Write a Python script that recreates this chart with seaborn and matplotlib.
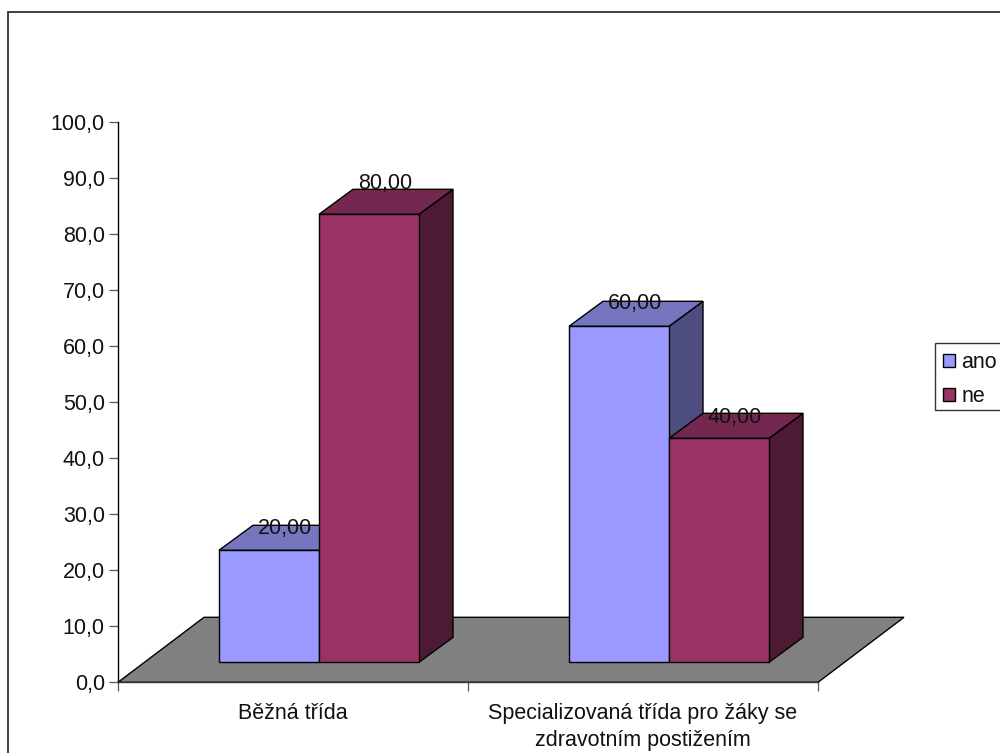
import matplotlib
matplotlib.use("Agg")
import matplotlib.pyplot as plt
from matplotlib.patches import Polygon, Rectangle
import pandas as pd
import seaborn as sns

categories = ["Běžná třída", "Specializovaná třída pro žáky se\nzdravotním postižením"]
series_names = ["ano", "ne"]
ano_values = [20.0, 60.0]
ne_values = [80.0, 40.0]
y_ticks = [0, 10, 20, 30, 40, 50, 60, 70, 80, 90, 100]

front_colors = ["#9999FF", "#993366"]
top_colors = ["#7676BF", "#74284F"]
side_colors = ["#4D4D80", "#4D1A33"]
floor_color = "#808080"

# Height of each value label's baseline above its bar, in pixels (series, category)
label_lift = [[16, 17], [25, 15]]

WIDTH, HEIGHT = 1000, 753
FONT_SIZE = 15.5
PX = 0.72  # points per pixel at 100 dpi

sns.set_theme(style="white")
plt.rcParams["font.family"] = ["Liberation Sans", "DejaVu Sans"]
plt.rcParams["text.color"] = "#111111"

fig = plt.figure(figsize=(WIDTH / 100, HEIGHT / 100), dpi=100, facecolor="white")
ax = fig.add_axes([118 / WIDTH, 1 - 682.3 / HEIGHT, 700 / WIDTH, 560 / HEIGHT])

table = pd.DataFrame({
    "category": categories * 2,
    "series": [series_names[0]] * 2 + [series_names[1]] * 2,
    "value": ano_values + ne_values,
})

sns.barplot(
    data=table, x="category", y="value", hue="series", order=categories,
    hue_order=series_names, palette=front_colors, saturation=1, width=200 / 350,
    gap=0, edgecolor="black", linewidth=1.0, legend=False, ax=ax, errorbar=None,
)

ax.set_xlim(-0.5, 1.5)
ax.set_ylim(0, 100)
ax.set_xlabel("")
ax.set_ylabel("")

# Oblique projection: screen offsets expressed in data units of this axes
x_unit = 350.0
y_unit = 5.6
floor_dx, floor_dy = 86 / x_unit, 65 / y_unit
bar_dx, bar_dy = 34 / x_unit, 25 / y_unit
bar_shift_x, bar_base = 26 / x_unit, 20 / y_unit

x0, x1 = ax.get_xlim()
ax.add_patch(Polygon(
    [(x0, 0), (x1, 0), (x1 + floor_dx, floor_dy), (x0 + floor_dx, floor_dy)],
    closed=True, facecolor=floor_color, edgecolor="black", linewidth=1.0,
    zorder=1, clip_on=False,
))

for s, container in enumerate(ax.containers):
    for c, patch in enumerate(container.patches):
        value = patch.get_height()
        left = patch.get_x() + bar_shift_x
        right = left + patch.get_width()
        patch.set_x(left)
        patch.set_y(bar_base)
        patch.set_zorder(3.2 + s)
        top = bar_base + value
        ax.add_patch(Polygon(
            [(right, bar_base), (right + bar_dx, bar_base + bar_dy),
             (right + bar_dx, top + bar_dy), (right, top)],
            closed=True, facecolor=side_colors[s], edgecolor="black",
            linewidth=1.0, zorder=3.0 + s, clip_on=False,
        ))
        ax.add_patch(Polygon(
            [(left, top), (right, top), (right + bar_dx, top + bar_dy),
             (left + bar_dx, top + bar_dy)],
            closed=True, facecolor=top_colors[s], edgecolor="black",
            linewidth=1.0, zorder=3.1 + s, clip_on=False,
        ))
        ax.annotate(
            f"{value:.2f}".replace(".", ","),
            xy=((left + right) / 2, top), xytext=(16 * PX, label_lift[s][c] * PX),
            textcoords="offset points", ha="center", va="baseline",
            fontsize=FONT_SIZE, zorder=8,
        )

# Axis lines and ticks: category boundaries carry the ticks, centres the labels
for name in ("top", "right"):
    ax.spines[name].set_visible(False)
ax.spines["left"].set_color("black")
ax.spines["left"].set_linewidth(1.0)
ax.spines["left"].set_zorder(2)
ax.spines["bottom"].set_color("#333333")
ax.spines["bottom"].set_linewidth(1.0)
ax.spines["bottom"].set_zorder(2)

ax.set_yticks(y_ticks)
ax.set_yticklabels([f"{t:.1f}".replace(".", ",") for t in y_ticks])
ax.tick_params(axis="y", which="major", left=True, length=6.5, width=0.9, color="#555555",
               pad=3, labelsize=FONT_SIZE, labelcolor="#111111")
ax.set_xticks([-0.5, 0.5, 1.5])
ax.set_xticklabels([])
ax.set_xticks([0, 1], labels=categories, minor=True)
ax.tick_params(axis="x", which="major", bottom=True, length=6.5, width=0.9, color="#555555")
ax.tick_params(axis="x", which="minor", bottom=False, length=0, pad=14.8,
               labelsize=FONT_SIZE, labelcolor="#111111")
for label in ax.get_xticklabels(minor=True):
    label.set_linespacing(1.4)

# Legend box is drawn on its own so it can sit tighter than the legend's padding allows
ax.add_patch(Rectangle(
    (935 / WIDTH, 1 - 410 / HEIGHT), 0.1, 67 / HEIGHT, transform=fig.transFigure,
    facecolor="white", edgecolor="#333333", linewidth=1.0, zorder=9, clip_on=False,
))
legend = ax.legend(
    handles=[c.patches[0] for c in ax.containers], labels=series_names,
    loc="upper left", bbox_to_anchor=(935 / WIDTH, 1 - 344 / HEIGHT),
    bbox_transform=fig.transFigure, fontsize=FONT_SIZE, frameon=False,
    handlelength=0.56, handleheight=0.56,
    handletextpad=0.28, labelspacing=0.6, borderpad=0.38, borderaxespad=0,
)
legend.set_zorder(10)

# Chart-area border, running off the right and bottom edges of the image
fig.add_artist(Rectangle(
    (8 / WIDTH, -0.02), 1.05, 1.02 - 12 / HEIGHT, transform=fig.transFigure,
    facecolor="none", edgecolor="#333333", linewidth=1.3,
))

fig.savefig("out.png", dpi=100)
